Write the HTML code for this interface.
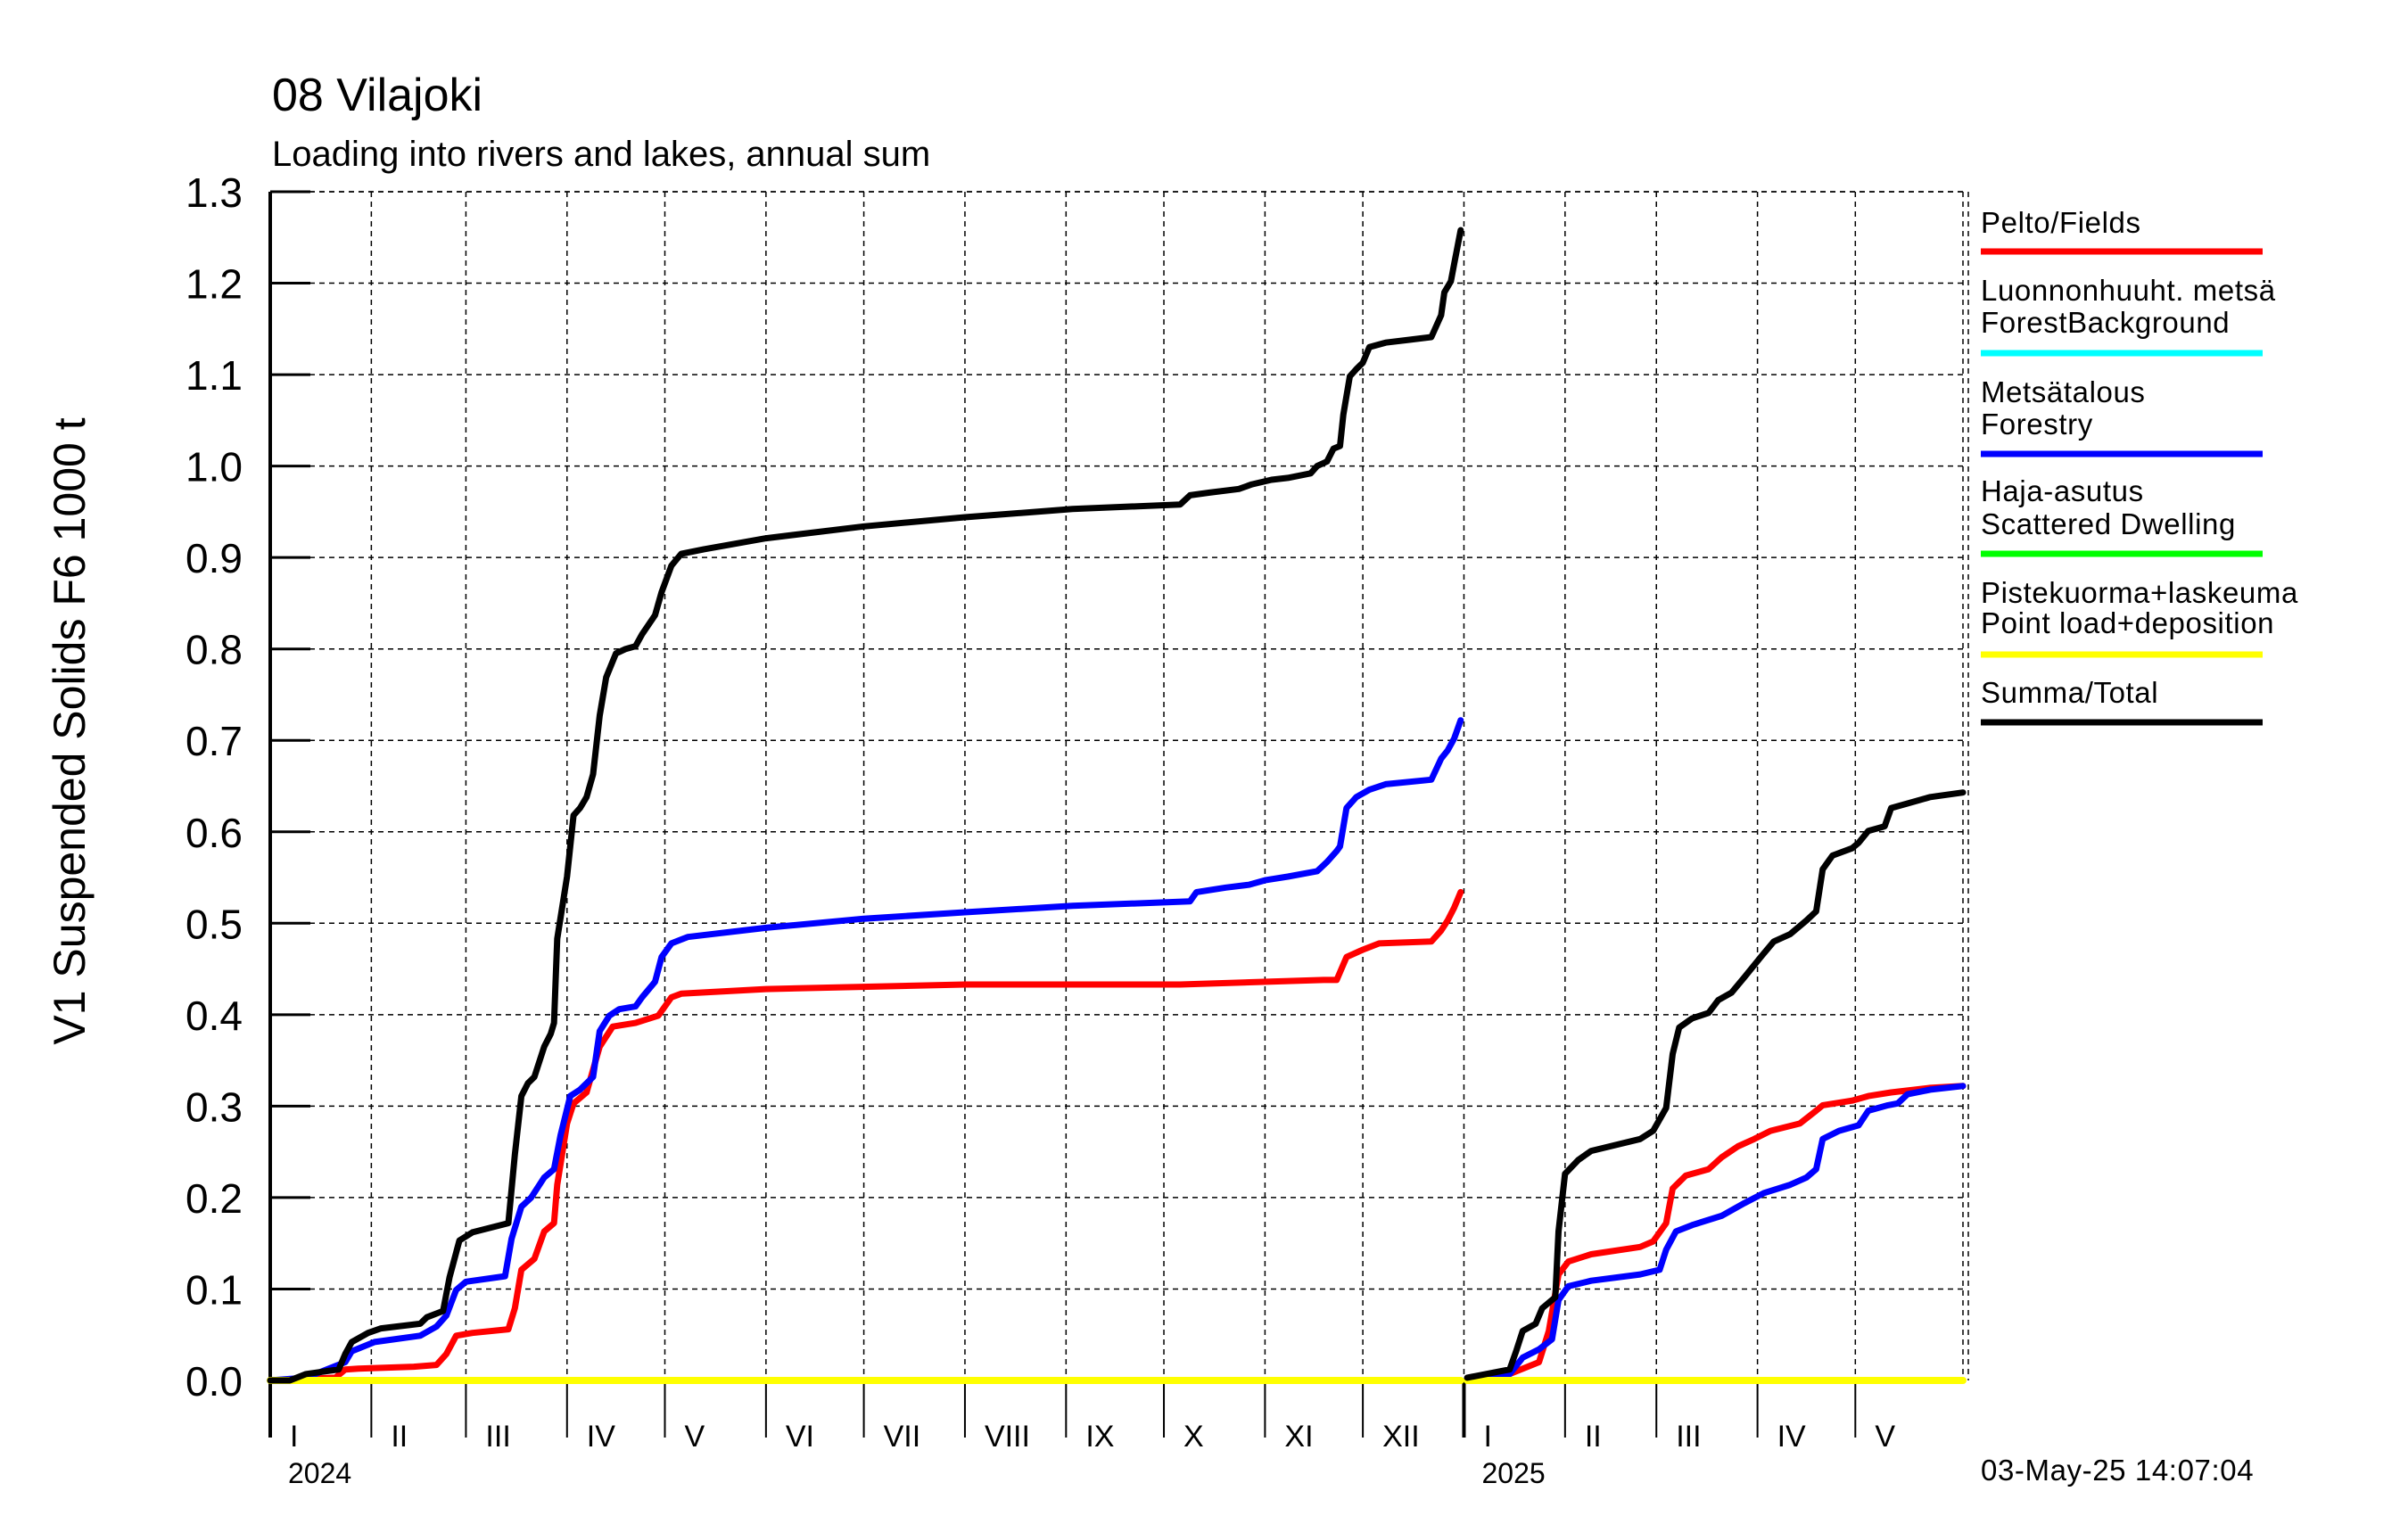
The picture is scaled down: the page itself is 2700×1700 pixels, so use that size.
<!DOCTYPE html>
<html><head><meta charset="utf-8"><style>
html,body{margin:0;padding:0;background:#fff}
svg{display:block;font-family:"Liberation Sans",sans-serif}
</style></head><body>
<svg id="chart" width="2700" height="1700" viewBox="0 0 2700 1700" xmlns="http://www.w3.org/2000/svg">
<rect width="2700" height="1700" fill="#fff"/>
<text x="305" y="124" font-size="52">08 Vilajoki</text>
<text x="305" y="186" font-size="40">Loading into rivers and lakes, annual sum</text>
<text transform="translate(95,820) rotate(-90)" text-anchor="middle" font-size="50">V1 Suspended Solids F6 1000 t</text>
<g id="grid"></g>
<g id="axes"></g>
<g id="series"></g>
<g id="legend"></g>
<text x="2221" y="1660" font-size="33" letter-spacing="0.6">03-May-25 14:07:04</text>
</svg>
<script>
const yTicks=[0.0,0.1,0.2,0.3,0.4,0.5,0.6,0.7,0.8,0.9,1.0,1.1,1.2,1.3];
const monthStarts=[0,31,60,91,121,152,182,213,244,274,305,335,366,397,425,456,486];
const monthLabels=["I","II","III","IV","V","VI","VII","VIII","IX","X","XI","XII","I","II","III","IV","V"];
const yearLabels=["2024","2025"];
const yearStarts=[0,366];
// 2024 series (day of year, value)
const tot24D=[0,6,11,21,23,25,30,34,46,48,53,55,58,62,73,75,77,79,81,84,86,87,88,91,93,95,97,99,101,103,106,109,112,114,118,120,123,126,133,152,182,213,246,279,282,288,297,301,307,312,319,321,324,326,328,329,331,333,335,337,342,349,356,359,360,362,363,365];
const tot24V=[0,0,0.007,0.012,0.029,0.042,0.052,0.057,0.062,0.069,0.076,0.113,0.153,0.162,0.172,0.247,0.311,0.325,0.332,0.365,0.379,0.391,0.483,0.551,0.618,0.626,0.638,0.663,0.727,0.769,0.795,0.800,0.803,0.816,0.837,0.862,0.891,0.904,0.909,0.921,0.934,0.944,0.953,0.958,0.968,0.971,0.975,0.980,0.985,0.987,0.992,1.000,1.005,1.019,1.022,1.056,1.098,1.106,1.113,1.130,1.135,1.138,1.141,1.165,1.190,1.202,1.221,1.258];
const for24D=[0,11,23,25,32,46,51,54,57,60,72,74,77,80,84,87,89,92,95,99,101,104,107,112,114,118,120,123,128,152,182,213,246,282,284,293,300,305,312,321,324,327,328,330,333,337,342,356,359,361,363,365];
const for24V=[0,0.003,0.02,0.032,0.042,0.049,0.059,0.071,0.099,0.108,0.114,0.155,0.19,0.2,0.222,0.231,0.268,0.311,0.318,0.332,0.382,0.399,0.406,0.409,0.419,0.436,0.463,0.478,0.485,0.495,0.505,0.512,0.519,0.524,0.534,0.539,0.542,0.547,0.551,0.557,0.567,0.579,0.584,0.626,0.638,0.646,0.652,0.657,0.680,0.689,0.702,0.722];
const fld24D=[0,20,23,27,44,51,54,57,62,73,75,77,81,84,87,88,91,93,97,101,105,112,119,123,126,152,213,279,323,327,330,335,340,356,359,361,363,365];
const fld24V=[0,0.003,0.012,0.013,0.015,0.017,0.029,0.049,0.052,0.056,0.079,0.121,0.133,0.163,0.172,0.214,0.281,0.303,0.315,0.365,0.387,0.391,0.399,0.419,0.423,0.428,0.433,0.433,0.438,0.438,0.463,0.471,0.478,0.480,0.492,0.503,0.517,0.534];
// 2025 series (day of year, value)
const tot25D=[1,14,16,18,22,24,28,29,31,35,39,54,58,62,64,66,70,75,78,82,86,91,95,100,105,108,110,113,119,121,124,129,131,136,143,153];
const tot25V=[0.003,0.012,0.032,0.054,0.062,0.079,0.091,0.163,0.226,0.241,0.251,0.264,0.273,0.298,0.357,0.386,0.396,0.402,0.416,0.424,0.441,0.463,0.480,0.488,0.503,0.513,0.559,0.574,0.582,0.588,0.601,0.606,0.626,0.631,0.638,0.643];
const fld25D=[1,14,23,26,29,32,39,54,58,62,64,68,75,79,84,89,94,103,108,110,119,124,131,143,153];
const fld25V=[0.002,0.007,0.020,0.054,0.116,0.130,0.138,0.146,0.152,0.172,0.210,0.224,0.231,0.244,0.256,0.264,0.273,0.281,0.295,0.301,0.306,0.311,0.315,0.320,0.322];
const for25D=[1,14,18,23,27,29,32,39,54,60,62,65,70,79,86,92,100,105,108,110,115,121,124,130,133,136,143,153];
const for25V=[0.002,0.007,0.025,0.034,0.045,0.088,0.103,0.109,0.116,0.121,0.143,0.163,0.170,0.180,0.194,0.205,0.214,0.222,0.231,0.264,0.273,0.279,0.295,0.301,0.303,0.313,0.318,0.322];
const zeroD24=[0,365];
const zeroV24=[0,0];
const zeroD25=[1,153];
const zeroV25=[0,0];

const NS="http://www.w3.org/2000/svg";
const X0=303,X1=2201,DMAX=519,Y0=1548,Y1=215,VMAX=1.3;
function xs(d){return X0+(X1-X0)*d/DMAX;}
function ys(v){return Y0-(Y0-Y1)*v/VMAX;}
function mk(tag,attrs,parent){const e=document.createElementNS(NS,tag);for(const k in attrs)e.setAttribute(k,attrs[k]);parent.appendChild(e);return e;}
const gridG=document.getElementById('grid'),axesG=document.getElementById('axes'),seriesG=document.getElementById('series'),legendG=document.getElementById('legend');

yTicks.forEach(v=>{
  const y=ys(v);
  if(v>0){const g=mk('line',{x1:X0,x2:X1,y1:y,y2:y,stroke:'#000','stroke-width':1.5,'stroke-dasharray':'6 5'},gridG);
  
  }
  const t=mk('line',{x1:X0,x2:X0+45,y1:y,y2:y,stroke:'#000','stroke-width':3},axesG);
  
  
  const l=mk('text',{x:272,y:y+17,'text-anchor':'end','font-size':46},axesG);
  l.textContent=v.toFixed(1);
  
  
});
monthStarts.forEach((d,i)=>{
  const x=xs(d);
  if(d>0){const g=mk('line',{x1:x,x2:x,y1:Y1,y2:Y0,stroke:'#000','stroke-width':1.5,'stroke-dasharray':'6 5'},gridG);
  
  }
  const t=mk('line',{x1:x,x2:x,y1:Y0,y2:1612,stroke:'#000','stroke-width':(d===366?4:2)},axesG);
  
  
  const l=mk('text',{x:x+22,y:1622,'font-size':34},axesG);
  l.textContent=monthLabels[i];
  
  
});
yearStarts.forEach((d,i)=>{
  const l=mk('text',{x:xs(d)+20,y:1663,'font-size':32},axesG);
  l.textContent=yearLabels[i];
  
  
});
[X1,X1+6].forEach(px=>{
  const r=mk('line',{x1:px,x2:px,y1:Y1,y2:Y0,stroke:'#000','stroke-width':1.5,'stroke-dasharray':'6 5'},gridG);
  
  
});
const topBorder=mk('line',{x1:X0,x2:X1,y1:Y1,y2:Y1,stroke:'#000','stroke-width':1.5,'stroke-dasharray':'6 5'},gridG);


const yAxisLine=mk('line',{x1:X0,x2:X0,y1:Y1,y2:1612,stroke:'#000','stroke-width':4},axesG);



function draw(D,V,off,color,w,name){
  const pts=D.map((d,i)=>xs(d+off).toFixed(1)+','+ys(V[i]).toFixed(1)).join(' ');
  const p=mk('polyline',{points:pts,fill:'none',stroke:color,'stroke-width':w,'stroke-linejoin':'round','stroke-linecap':'round'},seriesG);
  
  
}
draw(zeroD24,zeroV24,0,'#00ffff',7,'forest-background-2024');
draw(zeroD25,zeroV25,366,'#00ffff',7,'forest-background-2025');
draw(zeroD24,zeroV24,0,'#00ff00',7,'scattered-dwelling-2024');
draw(zeroD25,zeroV25,366,'#00ff00',7,'scattered-dwelling-2025');
draw(fld24D,fld24V,0,'#ff0000',7,'fields-2024');
draw(fld25D,fld25V,366,'#ff0000',7,'fields-2025');
draw(for24D,for24V,0,'#0000ff',7,'forestry-2024');
draw(for25D,for25V,366,'#0000ff',7,'forestry-2025');
draw(zeroD24,zeroV24,0,'#ffff00',8,'point-load-2024');
draw(zeroD25,zeroV25,366,'#ffff00',8,'point-load-2025');
draw(tot24D,tot24V,0,'#000000',7,'total-2024');
draw(tot25D,tot25V,366,'#000000',7,'total-2025');

const legItems=[
 [["Pelto/Fields"],'#ff0000',282,[261]],
 [["Luonnonhuuht. metsä","ForestBackground"],'#00ffff',396,[337,373]],
 [["Metsätalous","Forestry"],'#0000ff',509,[451,487]],
 [["Haja-asutus","Scattered Dwelling"],'#00ff00',621,[562,599]],
 [["Pistekuorma+laskeuma","Point load+deposition"],'#ffff00',734,[676,710]],
 [["Summa/Total"],'#000000',810,[788]]
];
legItems.forEach(it=>{
  it[0].forEach((s,j)=>{
    const t=mk('text',{x:2221,y:it[3][j],'font-size':33,'letter-spacing':0.6},legendG);
    t.textContent=s;
    
    
  });
  const l=mk('line',{x1:2221,x2:2537,y1:it[2],y2:it[2],stroke:it[1],'stroke-width':7},legendG);
  
  
});
</script>
</body></html>
